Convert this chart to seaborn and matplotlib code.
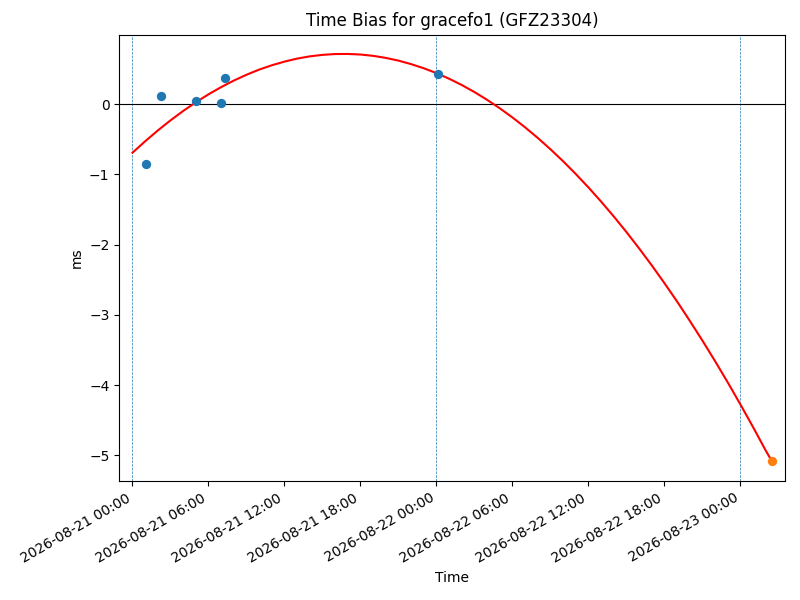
import matplotlib
matplotlib.use('Agg')
import matplotlib.pyplot as plt
import matplotlib.dates as mdates
import seaborn as sns
import pandas as pd

# measured time bias (ms)
obs_times = ['2026-08-21 01:03', '2026-08-21 02:17', '2026-08-21 05:03',
             '2026-08-21 07:01', '2026-08-21 07:20', '2026-08-22 00:09']
obs_bias = [-0.853, 0.115, 0.043, 0.018, 0.371, 0.433]

# predicted point at end of fit
pred_time = ['2026-08-23 02:29']
pred_bias = [-5.086]

# fitted curve, hourly from 2026-08-21 00:00, plus the end point
fit_start = '2026-08-21 00:00'
fit_bias = [-0.690, -0.527, -0.373, -0.229, -0.095, 0.028, 0.142, 0.245, 0.338, 0.421,
            0.494, 0.556, 0.608, 0.651, 0.683, 0.704, 0.716, 0.717, 0.709, 0.690,
            0.661, 0.622, 0.572, 0.513, 0.444, 0.364, 0.274, 0.174, 0.063, -0.057,
            -0.188, -0.329, -0.480, -0.641, -0.812, -0.994, -1.185, -1.387, -1.599, -1.821,
            -2.054, -2.296, -2.549, -2.811, -3.085, -3.368, -3.661, -3.964, -4.278, -4.601,
            -4.935, -5.086]
fit_end = '2026-08-23 02:29'

day_marks = ['2026-08-21 00:00', '2026-08-22 00:00', '2026-08-23 00:00']

obs = pd.DataFrame({'time': pd.to_datetime(obs_times), 'bias': obs_bias})
pred = pd.DataFrame({'time': pd.to_datetime(pred_time), 'bias': pred_bias})
fit_time = pd.date_range(fit_start, periods=len(fit_bias) - 1, freq='h').append(pd.DatetimeIndex([fit_end]))
fit = pd.DataFrame({'time': fit_time, 'bias': fit_bias})

fig, ax = plt.subplots(figsize=(8, 6), dpi=100)

for d in day_marks:
    ax.axvline(pd.Timestamp(d), color='C0', linestyle='--', linewidth=0.5)
ax.axhline(0, color='black', linewidth=0.8)

sns.lineplot(data=fit, x='time', y='bias', color='red', linewidth=1.5, ax=ax)
sns.scatterplot(data=obs, x='time', y='bias', color='C0', s=45, linewidth=0, ax=ax, zorder=3)
sns.scatterplot(data=pred, x='time', y='bias', color='C1', s=45, linewidth=0, ax=ax, zorder=3)

ax.set_xlim(pd.Timestamp('2026-08-20 22:57'), pd.Timestamp('2026-08-23 03:30'))
ax.set_ylim(-5.37, 0.99)
ax.xaxis.set_major_locator(mdates.HourLocator(byhour=[0, 6, 12, 18]))
ax.xaxis.set_major_formatter(mdates.DateFormatter('%Y-%m-%d %H:%M'))
plt.setp(ax.get_xticklabels(), rotation=30, ha='right')

ax.set_title('Time Bias for gracefo1 (GFZ23304)')
ax.set_xlabel('Time')
ax.set_ylabel('ms')

fig.subplots_adjust(left=0.149, right=0.981, top=0.942, bottom=0.198)
fig.savefig('out.png', dpi=100)
plt.close(fig)
